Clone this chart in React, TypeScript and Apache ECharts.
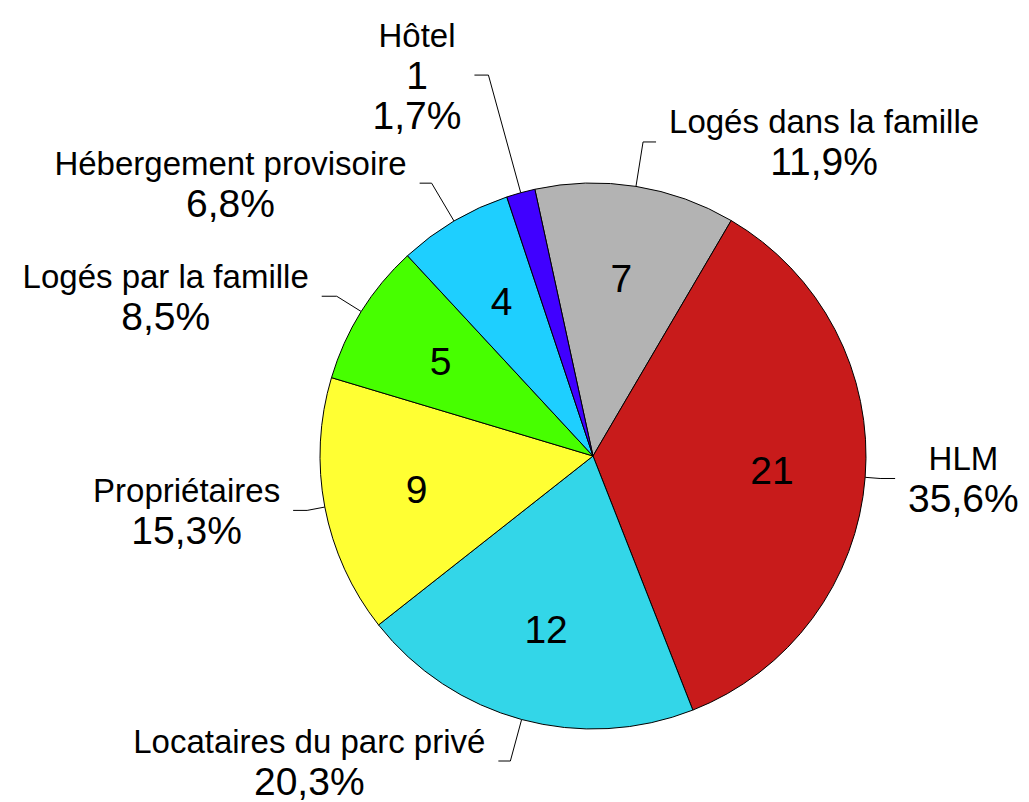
import React, { useEffect, useRef } from "react";
import * as echarts from "echarts";

const categories = [
  "Logés dans la famille",
  "HLM",
  "Locataires du parc privé",
  "Propriétaires",
  "Logés par la famille",
  "Hébergement provisoire",
  "Hôtel",
];
const values = [7, 21, 12, 9, 5, 4, 1];
const colors = ["#b3b3b3", "#c81b1b", "#33d6e8", "#ffff33", "#47ff00", "#1ecfff", "#4000ff"];
// label line lengths (first radial segment, second horizontal segment)
const lineLen1 = [45, 15, 43, 18, 29, 44, 122];
const lineLen2 = [13, 15, 12, 14, 15, 12, 14];

export default function App() {
  const ref = useRef<HTMLDivElement>(null);
  useEffect(() => {
    if (!ref.current) return;
    const chart = echarts.init(ref.current, undefined, { renderer: "svg" });
    const fmtPct = (p: number) => p.toFixed(1).replace(".", ",") + "%";
    const outerData = categories.map((name, i) => ({
      name,
      value: values[i],
      itemStyle: { color: colors[i] },
      labelLine: { length: lineLen1[i], length2: lineLen2[i] },
    }));
    const innerData = categories.map((name, i) => ({
      name,
      value: values[i],
      label: { show: values[i] > 1 },
    }));
    chart.setOption({
      animation: false,
      backgroundColor: "#ffffff",
      series: [
        {
          type: "pie",
          center: [593, 456],
          radius: [0, 273],
          startAngle: 102.3,
          clockwise: true,
          avoidLabelOverlap: false,
          itemStyle: { borderColor: "#000000", borderWidth: 1 },
          label: {
            show: true,
            position: "outside",
            distanceToLabelLine: 13,
            color: "#000000",
            fontFamily: "Liberation Sans, Arial, sans-serif",
            formatter: (p: any) => {
              const lines = [`{n|${p.name}}`];
              if (p.value <= 1) lines.push(`{p|${p.value}}`);
              lines.push(`{p|${fmtPct(p.percent)}}`);
              return lines.join("\n");
            },
            rich: {
              n: { fontSize: 33, lineHeight: 40, align: "center", color: "#000", fontFamily: "Liberation Sans, Arial, sans-serif" },
              p: { fontSize: 39, lineHeight: 40, align: "center", color: "#000", fontFamily: "Liberation Sans, Arial, sans-serif" },
            },
          },
          labelLine: {
            show: true,
            smooth: false,
            lineStyle: { color: "#000000", width: 1 },
          },
          emphasis: { disabled: true },
          data: outerData,
        },
        {
          type: "pie",
          center: [593, 456],
          radius: [80, 273],
          startAngle: 102.3,
          clockwise: true,
          silent: true,
          avoidLabelOverlap: false,
          itemStyle: { color: "rgba(0,0,0,0)", borderWidth: 0 },
          label: {
            show: true,
            position: "inside",
            formatter: "{c}",
            fontSize: 39,
            color: "#000000",
            fontFamily: "Liberation Sans, Arial, sans-serif",
          },
          labelLine: { show: false },
          emphasis: { disabled: true },
          data: innerData,
        },
      ],
    });
    return () => chart.dispose();
  }, []);
  return (
    <div
      ref={ref}
      style={{ position: "absolute", left: 0, top: 0, width: 1029, height: 802 }}
    />
  );
}
